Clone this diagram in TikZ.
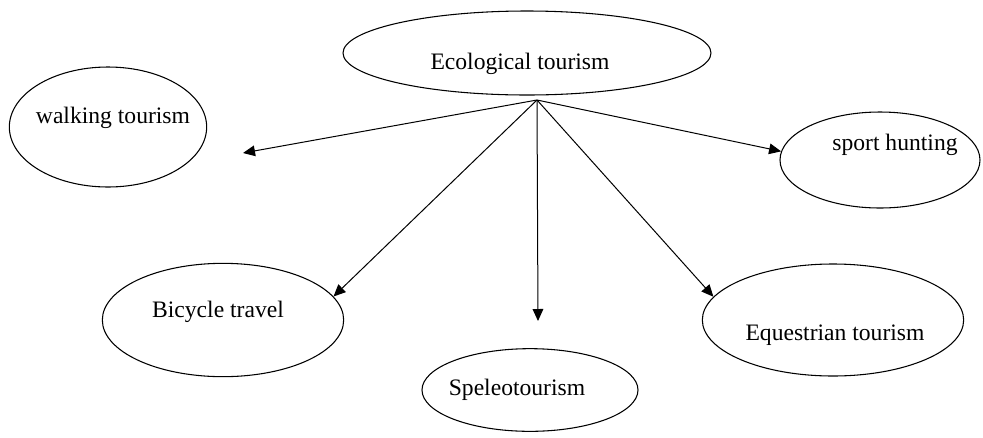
\documentclass[tikz,border=0pt]{standalone}
\usepackage{fontspec}
\setmainfont{Liberation Serif}
\usetikzlibrary{arrows.meta,shapes.geometric}

\begin{document}
\begin{tikzpicture}[x=0.75pt,y=-0.75pt]
\tikzstyle{blob}=[ellipse, draw=black, line width=0.8pt, inner sep=0pt]
\tikzstyle{word}=[inner sep=0pt, font=\fontsize{17.7}{20}\selectfont]
\tikzstyle{connect}=[-{Triangle[length=9pt,width=8pt]}, line width=0.75pt]
\useasboundingbox (0,0) rectangle (983,437);
  \node[blob, minimum width=276pt, minimum height=63pt] (eco) at (527,53) {};
  \node[word] (ecot) at (520,64) {Ecological tourism};
  \node[blob, minimum width=148pt, minimum height=90pt] (walk) at (108,127) {};
  \node[word] (walkt) at (113,118) {walking tourism};
  \node[blob, minimum width=150pt, minimum height=72pt] (sport) at (880,160) {};
  \node[word] (sportt) at (895,145) {sport hunting};
  \node[blob, minimum width=181pt, minimum height=85pt] (bike) at (223,320) {};
  \node[word] (biket) at (218,312) {Bicycle travel};
  \node[blob, minimum width=162pt, minimum height=62pt] (speleo) at (530,390) {};
  \node[word] (speleot) at (517,390) {Speleotourism};
  \node[blob, minimum width=196pt, minimum height=84pt] (horse) at (833,320) {};
  \node[word] (horset) at (835,335) {Equestrian tourism};
  \coordinate (hub) at (537,100);
  \coordinate (walkend) at (243,153);
  \coordinate (speleoend) at (538,321);
  \path (hub) edge[connect] (walkend)
        (hub) edge[connect] (sport.175)
        (hub) edge[connect] (bike.12)
        (hub) edge[connect] (speleoend)
        (hub) edge[connect] (horse.169)
        ;
\end{tikzpicture}
\end{document}
